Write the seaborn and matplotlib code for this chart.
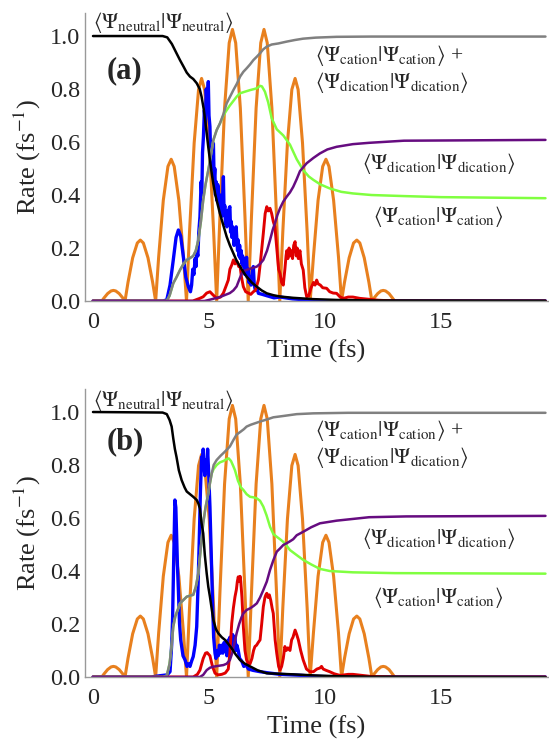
import numpy as np
import pandas as pd
import matplotlib
matplotlib.use("Agg")
import matplotlib.pyplot as plt
import seaborn as sns

# laser field |E(t)| (same in both panels)
orange_t = [0.0, 0.38,
            0.48, 0.63, 0.78, 0.88, 0.98, 1.13, 1.28, 1.38,
            1.51, 1.71, 1.91, 2.04, 2.17, 2.37, 2.57, 2.70,
            2.83, 3.03, 3.23, 3.37, 3.50, 3.70, 3.90, 4.03,
            4.16, 4.36, 4.55, 4.68, 4.81, 5.01, 5.20, 5.33,
            5.47, 5.67, 5.87, 6.01, 6.15, 6.35, 6.55, 6.69,
            6.83, 7.03, 7.23, 7.37, 7.51, 7.71, 7.91, 8.05,
            8.18, 8.38, 8.57, 8.71, 8.84, 9.03, 9.23, 9.36,
            9.50, 9.70, 9.90, 10.04, 10.17, 10.37, 10.58, 10.71,
            10.84, 11.04, 11.23, 11.37, 11.50, 11.69, 11.89, 12.02,
            12.12, 12.27, 12.41, 12.51, 12.61, 12.76, 12.90, 13.0]
orange_v = [0, 0,
            .012, .028, .038, .04, .038, .028, .012, 0,
            .071, .163, .219, .23, .219, .163, .071, 0,
            .166, .380, .508, .535, .508, .380, .166, 0,
            .260, .596, .798, .84, .798, .596, .260, 0,
            .318, .728, .974, 1.025, .974, .728, .318, 0,
            .318, .728, .974, 1.025, .974, .728, .318, 0,
            .260, .596, .798, .84, .798, .596, .260, 0,
            .166, .380, .508, .535, .508, .380, .166, 0,
            .071, .163, .219, .23, .219, .163, .071, 0,
            .012, .028, .038, .04, .038, .028, .012, 0]

# ---------------- panel (a) ----------------
blue_a_t = [0, 3.0, 3.18, 3.32, 3.46, 3.58, 3.68, 3.78, 3.89, 4.0, 4.11, 4.2, 4.25, 4.3, 4.35,
            4.4, 4.44, 4.47, 4.52, 4.56, 4.61, 4.66, 4.69, 4.72, 4.76, 4.8, 4.84, 4.88, 4.92,
            4.97, 5.0, 5.04, 5.07, 5.1, 5.13, 5.16, 5.19, 5.22, 5.25, 5.28, 5.31, 5.34, 5.37,
            5.4, 5.43, 5.47, 5.5, 5.53, 5.56, 5.59, 5.62, 5.65, 5.68, 5.71, 5.74, 5.77, 5.8,
            5.84, 5.87, 5.9, 5.93, 5.96, 5.99, 6.02, 6.05, 6.08, 6.11, 6.14, 6.17, 6.2, 6.23,
            6.26, 6.29, 6.32, 6.35, 6.39, 6.42, 6.45, 6.48, 6.52, 6.55, 6.58, 6.62, 6.65, 6.68,
            6.72, 6.77, 6.81, 6.85, 6.88, 6.91, 6.95, 7.0, 7.06, 7.13, 7.3, 7.49, 7.8, 8.06,
            8.6, 9.2, 10.0, 19.5]
blue_a_v = [0, 0, 0.004, 0.06, 0.155, 0.24, 0.268, 0.245, 0.17, 0.09, 0.054, 0.035, 0.06, 0.12, 0.1,
            0.16, 0.13, 0.19, 0.17, 0.26, 0.318, 0.45, 0.40, 0.56, 0.62, 0.72, 0.66, 0.80, 0.74,
            0.828, 0.70, 0.658, 0.55, 0.60, 0.50, 0.58, 0.595, 0.46, 0.50, 0.40, 0.45, 0.38, 0.44,
            0.431, 0.36, 0.40, 0.33, 0.38, 0.32, 0.40, 0.469, 0.33, 0.36, 0.29, 0.33, 0.28, 0.34,
            0.30, 0.35, 0.356, 0.26, 0.30, 0.24, 0.28, 0.255, 0.21, 0.27, 0.22, 0.28, 0.23, 0.19,
            0.23, 0.17, 0.21, 0.16, 0.19, 0.14, 0.17, 0.13, 0.16, 0.10, 0.14, 0.165, 0.09, 0.12,
            0.07, 0.092, 0.06, 0.10, 0.12, 0.13, 0.06, 0.04, 0.05, 0.029, 0.025, 0.02, 0.012, 0.015,
            0.008, 0.004, 0.0, 0.0]

red_a_t = [0, 4.3, 4.6, 4.75, 4.9, 5.04, 5.15, 5.33, 5.5, 5.62, 5.75, 5.83, 5.9, 5.98, 6.05,
           6.12, 6.2, 6.28, 6.34, 6.4, 6.48, 6.58, 6.7, 6.8, 6.91, 7.0, 7.13, 7.22, 7.34, 7.42,
           7.49, 7.55, 7.63, 7.7, 7.77, 7.84, 7.92, 8.0, 8.06, 8.13, 8.2, 8.27, 8.32, 8.35, 8.4,
           8.45, 8.5, 8.56, 8.6, 8.65, 8.71, 8.76, 8.8, 8.85, 8.92, 8.98, 9.06, 9.13, 9.21, 9.3,
           9.4, 9.5, 9.57, 9.64, 9.7, 9.8, 9.9, 10.07, 10.2, 10.35, 10.5, 10.65, 10.8, 11.0,
           11.2, 11.5, 12.3, 13.0, 19.5]
red_a_v = [0, 0, 0.01, 0.016, 0.03, 0.035, 0.025, 0.01, 0.015, 0.03, 0.06, 0.079, 0.12, 0.136, 0.155,
           0.14, 0.15, 0.13, 0.13, 0.09, 0.054, 0.035, 0.03, 0.025, 0.035, 0.04, 0.08, 0.15, 0.255, 0.33,
           0.356, 0.34, 0.35, 0.33, 0.30, 0.28, 0.2, 0.12, 0.104, 0.07, 0.06, 0.12, 0.17, 0.19, 0.16,
           0.2, 0.17, 0.19, 0.16, 0.21, 0.224, 0.17, 0.2, 0.16, 0.19, 0.14, 0.117, 0.05, 0.016, 0.02,
           0.05, 0.07, 0.06, 0.079, 0.065, 0.06, 0.05, 0.048, 0.035, 0.03, 0.029, 0.015, 0.01, 0.015,
           0.015, 0.01, 0.003, 0.0, 0.0]

black_a_t = [0, 3.0, 3.2, 3.4, 3.6, 3.75, 3.9, 4.04, 4.18, 4.32, 4.47, 4.6, 4.68, 4.78, 4.9, 4.97,
             5.04, 5.12, 5.19, 5.26, 5.33, 5.47, 5.62, 5.76, 5.9, 6.05, 6.19, 6.34, 6.48, 6.62,
             6.84, 7.06, 7.27, 7.49, 7.77, 8.06, 8.63, 9.5, 10.5, 12, 19.5]
black_a_v = [1.0, 1.0, 0.995, 0.97, 0.935, 0.909, 0.885, 0.862, 0.847, 0.838, 0.822, 0.80, 0.771, 0.72, 0.633, 0.58,
             0.532, 0.48, 0.44, 0.406, 0.38, 0.33, 0.285, 0.243, 0.21, 0.18, 0.152, 0.13, 0.11, 0.092,
             0.07, 0.054, 0.04, 0.029, 0.022, 0.017, 0.012, 0.007, 0.004, 0.002, 0.001]

gray_a_t = [0, 3.18, 3.3, 3.46, 3.6, 3.75, 3.9, 4.04, 4.18, 4.32, 4.43, 4.54, 4.65, 4.75, 4.85, 4.97,
            5.08, 5.19, 5.33, 5.47, 5.62, 5.76, 5.9, 6.05, 6.2, 6.34, 6.48, 6.62, 6.77, 6.91, 7.06,
            7.2, 7.34, 7.49, 7.7, 7.99, 8.35, 8.7, 9.05, 9.6, 10.5, 12, 19.5]
gray_a_v = [0, 0, 0.02, 0.067, 0.09, 0.117, 0.14, 0.155, 0.162, 0.17, 0.19, 0.23, 0.3, 0.381, 0.44, 0.494,
            0.55, 0.608, 0.645, 0.67, 0.705, 0.746, 0.77, 0.796, 0.82, 0.847, 0.865, 0.878, 0.893, 0.909, 0.922,
            0.935, 0.95, 0.96, 0.968, 0.972, 0.979, 0.985, 0.99, 0.994, 0.997, 0.998, 0.998]

green_a_t = [0, 3.18, 3.3, 3.46, 3.6, 3.75, 3.9, 4.04, 4.18, 4.32, 4.43, 4.54, 4.65, 4.75, 4.85, 4.97,
             5.08, 5.19, 5.33, 5.47, 5.62, 5.76, 5.9, 6.05, 6.2, 6.34, 6.55, 6.77, 6.95, 7.06, 7.2,
             7.28, 7.41, 7.55, 7.7, 7.92, 8.2, 8.49, 8.78, 9.06, 9.3, 9.5, 9.8, 10.2, 10.7, 11.2,
             12, 13.4, 15, 19.5]
green_a_v = [0, 0, 0.02, 0.067, 0.09, 0.117, 0.14, 0.155, 0.162, 0.17, 0.19, 0.23, 0.3, 0.381, 0.44, 0.494,
             0.55, 0.608, 0.645, 0.67, 0.70, 0.72, 0.738, 0.755, 0.772, 0.784, 0.79, 0.796, 0.80, 0.803, 0.812,
             0.81, 0.79, 0.75, 0.69, 0.648, 0.625, 0.59, 0.535, 0.494, 0.47, 0.457, 0.44, 0.425, 0.412, 0.406,
             0.40, 0.396, 0.392, 0.388]

purple_a_t = [0, 4.8, 5.04, 5.47, 5.9, 6.05, 6.19, 6.3, 6.41, 6.55, 6.7, 6.9, 7.06, 7.2, 7.34, 7.5,
              7.63, 7.75, 7.84, 7.95, 8.06, 8.2, 8.35, 8.49, 8.63, 8.78, 8.92, 9.06, 9.21, 9.5,
              9.78, 10.1, 10.5, 11.2, 11.9, 13.4, 19.5]
purple_a_v = [0, 0, 0.005, 0.015, 0.03, 0.04, 0.055, 0.08, 0.104, 0.115, 0.12, 0.125, 0.13, 0.14, 0.155, 0.19,
              0.23, 0.27, 0.293, 0.325, 0.35, 0.375, 0.394, 0.41, 0.431, 0.46, 0.49, 0.505, 0.52, 0.54,
              0.557, 0.572, 0.582, 0.592, 0.597, 0.605, 0.608]

# ---------------- panel (b) ----------------
blue_b_t = [0, 2.5, 2.9, 3.2, 3.32, 3.39, 3.43, 3.48, 3.53, 3.57, 3.6, 3.64, 3.68, 3.73, 3.78, 3.88,
            3.97, 4.05, 4.12, 4.18, 4.25, 4.32, 4.4, 4.47, 4.53, 4.58, 4.63, 4.68, 4.72, 4.75, 4.78,
            4.82, 4.86, 4.9, 4.94, 4.98, 5.04, 5.1, 5.16, 5.2, 5.26, 5.3, 5.35, 5.4, 5.45, 5.5,
            5.55, 5.6, 5.65, 5.69, 5.73, 5.77, 5.8, 5.83, 5.87, 5.9, 5.94, 5.98, 6.02, 6.06, 6.09,
            6.12, 6.16, 6.2, 6.26, 6.32, 6.41, 6.5, 6.6, 6.7, 6.9, 7.2, 7.6, 8.06, 9.0, 9.5, 10.5, 19.5]
blue_b_v = [0, 0, 0.005, 0.008, 0.02, 0.12, 0.22, 0.45, 0.668, 0.64, 0.55, 0.42, 0.328, 0.2, 0.14, 0.08,
            0.064, 0.04, 0.05, 0.04, 0.06, 0.077, 0.12, 0.19, 0.35, 0.517, 0.70, 0.831, 0.80, 0.86, 0.80,
            0.76, 0.82, 0.78, 0.86, 0.78, 0.643, 0.45, 0.26, 0.15, 0.089, 0.07, 0.1, 0.08, 0.12, 0.09,
            0.12, 0.09, 0.13, 0.10, 0.12, 0.08, 0.13, 0.14, 0.10, 0.15, 0.11, 0.11, 0.16, 0.12, 0.15,
            0.15, 0.10, 0.12, 0.1, 0.07, 0.06, 0.04, 0.045, 0.03, 0.025, 0.02, 0.015, 0.01, 0.006, 0.003, 0.0, 0.0]

red_b_t = [0, 4.32, 4.5, 4.61, 4.75, 4.85, 4.92, 5.04, 5.15, 5.26, 5.4, 5.55, 5.7, 5.83, 5.9, 5.98,
           6.05, 6.12, 6.18, 6.22, 6.26, 6.3, 6.34, 6.37, 6.42, 6.48, 6.55, 6.62, 6.7, 6.77, 6.85,
           6.92, 6.98, 7.05, 7.12, 7.2, 7.27, 7.34, 7.41, 7.45, 7.49, 7.55, 7.6, 7.66, 7.72, 7.77,
           7.85, 7.92, 8.0, 8.06, 8.13, 8.2, 8.27, 8.33, 8.4, 8.49, 8.56, 8.62, 8.71, 8.78, 8.85,
           8.95, 9.06, 9.2, 9.35, 9.5, 9.65, 9.78, 9.85, 9.92, 10.05, 10.2, 10.4, 10.65, 11.0, 11.2,
           11.6, 12.0, 13.0, 19.5]
red_b_v = [0, 0, 0.01, 0.026, 0.07, 0.09, 0.092, 0.08, 0.04, 0.014, 0.008, 0.01, 0.015, 0.03, 0.09, 0.203,
           0.26, 0.303, 0.33, 0.36, 0.378, 0.36, 0.38, 0.36, 0.3, 0.19, 0.1, 0.064, 0.05, 0.05, 0.07,
           0.1, 0.115, 0.12, 0.13, 0.14, 0.2, 0.265, 0.3, 0.31, 0.316, 0.30, 0.31, 0.29, 0.26, 0.24,
           0.14, 0.089, 0.04, 0.026, 0.04, 0.07, 0.115, 0.10, 0.11, 0.1, 0.14, 0.15, 0.177, 0.16, 0.14,
           0.1, 0.064, 0.03, 0.02, 0.02, 0.03, 0.034, 0.04, 0.03, 0.025, 0.02, 0.012, 0.006, 0.01, 0.01,
           0.006, 0.002, 0.0, 0.0]

black_b_t = [0, 3.0, 3.18, 3.3, 3.39, 3.46, 3.53, 3.6, 3.7, 3.82, 3.95, 4.04, 4.18, 4.32, 4.47, 4.54,
             4.61, 4.68, 4.75, 4.82, 4.9, 4.97, 5.04, 5.12, 5.19, 5.3, 5.4, 5.55, 5.69, 5.83, 5.98,
             6.15, 6.34, 6.55, 6.77, 7.1, 7.49, 8.06, 8.63, 9.5, 10.5, 12, 19.5]
black_b_v = [1.0, 0.998, 0.992, 0.97, 0.945, 0.9, 0.86, 0.83, 0.78, 0.743, 0.715, 0.70, 0.69, 0.68, 0.668, 0.655,
             0.635, 0.58, 0.542, 0.46, 0.391, 0.34, 0.303, 0.255, 0.215, 0.18, 0.165, 0.15, 0.14, 0.125, 0.108,
             0.085, 0.064, 0.05, 0.04, 0.025, 0.014, 0.012, 0.01, 0.006, 0.003, 0.001, 0.0]

gray_b_t = [0, 3.03, 3.18, 3.3, 3.39, 3.46, 3.55, 3.68, 3.75, 3.89, 4.04, 4.18, 4.32, 4.43, 4.54, 4.65,
            4.75, 4.85, 4.97, 5.04, 5.12, 5.2, 5.33, 5.5, 5.62, 5.76, 5.9, 6.05, 6.19, 6.35, 6.5,
            6.62, 6.8, 7.0, 7.2, 7.5, 7.77, 8.2, 8.78, 9.5, 11, 19.5]
gray_b_v = [0, 0, 0.005, 0.05, 0.12, 0.19, 0.23, 0.26, 0.278, 0.29, 0.303, 0.307, 0.31, 0.34, 0.391, 0.49,
            0.58, 0.64, 0.693, 0.731, 0.769, 0.80, 0.819, 0.835, 0.845, 0.857, 0.87, 0.894, 0.915, 0.925, 0.935,
            0.945, 0.952, 0.958, 0.964, 0.972, 0.98, 0.985, 0.992, 0.995, 0.997, 0.997]

green_b_t = [0, 3.03, 3.18, 3.3, 3.39, 3.46, 3.55, 3.68, 3.75, 3.89, 4.04, 4.18, 4.32, 4.43, 4.54, 4.65,
             4.75, 4.85, 4.97, 5.04, 5.12, 5.2, 5.33, 5.47, 5.62, 5.76, 5.85, 5.95, 6.05, 6.12, 6.25,
             6.38, 6.48, 6.62, 6.77, 6.92, 7.06, 7.2, 7.34, 7.48, 7.63, 7.77, 7.92, 8.06, 8.2, 8.35,
             8.49, 8.78, 9.06, 9.4, 9.78, 10.2, 11.2, 13, 19.5]
green_b_v = [0, 0, 0.005, 0.05, 0.12, 0.19, 0.23, 0.26, 0.278, 0.29, 0.303, 0.307, 0.31, 0.34, 0.391, 0.49,
             0.58, 0.64, 0.693, 0.731, 0.769, 0.785, 0.80, 0.81, 0.815, 0.822, 0.825, 0.815, 0.795, 0.78, 0.74,
             0.715, 0.706, 0.69, 0.68, 0.678, 0.674, 0.665, 0.643, 0.61, 0.567, 0.54, 0.529, 0.52, 0.51, 0.495,
             0.479, 0.46, 0.442, 0.425, 0.408, 0.40, 0.395, 0.392, 0.39]

purple_b_t = [0, 4.61, 4.75, 4.9, 5.04, 5.19, 5.4, 5.62, 5.76, 5.9, 6.0, 6.1, 6.19, 6.3, 6.4, 6.48,
              6.62, 6.77, 6.92, 7.06, 7.2, 7.34, 7.49, 7.63, 7.77, 7.92, 8.06, 8.2, 8.35, 8.49,
              8.63, 8.78, 9.06, 9.4, 9.78, 10.5, 11.9, 13.5, 19.5]
purple_b_v = [0, 0, 0.008, 0.026, 0.035, 0.039, 0.042, 0.045, 0.05, 0.064, 0.09, 0.13, 0.165, 0.2, 0.225, 0.24,
              0.253, 0.259, 0.268, 0.278, 0.3, 0.328, 0.36, 0.404, 0.44, 0.473, 0.485, 0.498, 0.505, 0.512,
              0.52, 0.535, 0.548, 0.565, 0.58, 0.59, 0.603, 0.606, 0.608]

lbl_neutral = r'$\langle\Psi_{\mathrm{neutral}}|\Psi_{\mathrm{neutral}}\rangle$'
lbl_sum1 = r'$\langle\Psi_{\mathrm{cation}}|\Psi_{\mathrm{cation}}\rangle$ +'
lbl_sum2 = r'$\langle\Psi_{\mathrm{dication}}|\Psi_{\mathrm{dication}}\rangle$'
lbl_dication = r'$\langle\Psi_{\mathrm{dication}}|\Psi_{\mathrm{dication}}\rangle$'
lbl_cation = r'$\langle\Psi_{\mathrm{cation}}|\Psi_{\mathrm{cation}}\rangle$'

ORANGE = '#E8801E'
BLUE = '#0000FF'
RED = '#E00000'
GREEN = '#80FF40'
GRAY = '#808080'
PURPLE = '#660C80'

sns.set_theme(style='white')
plt.rcParams['font.family'] = ['Liberation Serif', 'DejaVu Serif']
plt.rcParams['mathtext.fontset'] = 'stix'

fig = plt.figure(figsize=(5.49, 7.46), dpi=100)
ax_a = fig.add_axes([0.1548, 0.5965, 0.8434, 0.3861])
ax_b = fig.add_axes([0.1548, 0.0925, 0.8434, 0.3861])


def draw_panel(ax, curves, tag, pos):
    # order: field at the back, rates, populations on top
    for t, v, c, lw in curves:
        sns.lineplot(x=t, y=v, ax=ax, color=c, lw=lw, sort=False, estimator=None)
    ax.set_xlim(-0.345, 19.61)
    ax.set_ylim(0, 1.087)
    ax.set_xticks([0, 5, 10, 15])
    ax.set_yticks([0.0, 0.2, 0.4, 0.6, 0.8, 1.0])
    ax.set_yticklabels(['0.0', '0.2', '0.4', '0.6', '0.8', '1.0'])
    ax.set_xticks(np.arange(0, 20, 1), minor=True)
    ax.set_yticks(np.arange(0, 1.08, 0.05), minor=True)
    ax.tick_params(which='major', direction='in', length=5, width=0.8, color='#999999',
                   labelsize=17.5)
    ax.tick_params(which='minor', direction='in', length=2.5, width=0.6, color='#aaaaaa')
    ax.tick_params(axis='x', pad=8)
    ax.tick_params(axis='y', pad=3.5)
    for s in ['top', 'right']:
        ax.spines[s].set_visible(False)
    for s in ['left', 'bottom']:
        ax.spines[s].set_color('#999999')
        ax.spines[s].set_linewidth(1.0)
    ax.set_xlabel('Time (fs)', fontsize=19, labelpad=5)
    ax.set_ylabel('Rate (fs$^{-1}$)', fontsize=19, labelpad=5)

    ax.text(0.0, pos[0], lbl_neutral, fontsize=15.5, va='center', ha='left')
    ax.text(0.6, pos[1], tag, fontsize=22, fontweight='bold', va='center', ha='left')
    ax.text(9.57, pos[2], lbl_sum1, fontsize=15.5, va='center', ha='left')
    ax.text(9.57, pos[3], lbl_sum2, fontsize=15.5, va='center', ha='left')
    ax.text(11.58, pos[4], lbl_dication, fontsize=15.5, va='center', ha='left')
    ax.text(12.07, pos[5], lbl_cation, fontsize=15.5, va='center', ha='left')


curves_a = [(orange_t, orange_v, ORANGE, 2.2),
            (blue_a_t, blue_a_v, BLUE, 2.4),
            (red_a_t, red_a_v, RED, 2.1),
            (green_a_t, green_a_v, GREEN, 1.8),
            (gray_a_t, gray_a_v, GRAY, 1.8),
            (purple_a_t, purple_a_v, PURPLE, 1.8),
            (black_a_t, black_a_v, 'black', 1.8)]
curves_b = [(orange_t, orange_v, ORANGE, 2.2),
            (blue_b_t, blue_b_v, BLUE, 2.4),
            (red_b_t, red_b_v, RED, 2.1),
            (green_b_t, green_b_v, GREEN, 1.8),
            (gray_b_t, gray_b_v, GRAY, 1.8),
            (purple_b_t, purple_b_v, PURPLE, 1.8),
            (black_b_t, black_b_v, 'black', 1.8)]

draw_panel(ax_a, curves_a, '(a)', [1.05, 0.87, 0.928, 0.826, 0.52, 0.318])
draw_panel(ax_b, curves_b, '(b)', [1.045, 0.888, 0.932, 0.829, 0.523, 0.30])

fig.savefig('out.png', dpi=100)
